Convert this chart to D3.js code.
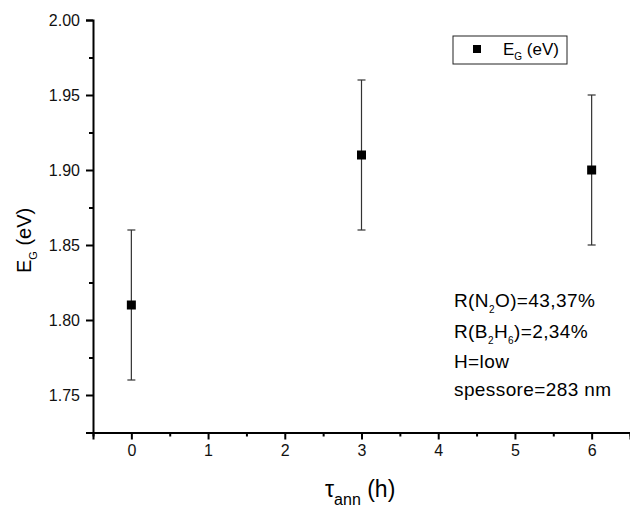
<!DOCTYPE html>
<html>
<head>
<meta charset="utf-8">
<script src="https://cdn.jsdelivr.net/npm/d3@7"></script>
<style>
  html, body { margin: 0; padding: 0; background: #fff; }
  svg { display: block; font-family: "Liberation Sans", Arial, sans-serif; }
</style>
</head>
<body>
<svg id="chart" width="630" height="511"></svg>
<script>
// ---- data ----
const annealTimes = [0, 3, 6];
const bandGap = [1.81, 1.91, 1.90];
const bandGapErr = [0.05, 0.05, 0.05];
const xTicks = [0, 1, 2, 3, 4, 5, 6];
const yTicks = [1.75, 1.80, 1.85, 1.90, 1.95, 2.00];
const notes = [
  [["R(N", 0], ["2", 1], ["O)=43,37%", 0]],
  [["R(B", 0], ["2", 1], ["H", 0], ["6", 1], [")=2,34%", 0]],
  [["H=low", 0]],
  [["spessore=283 nm", 0]]
];

const svg = d3.select("#chart");
const L = 93, R = 630, T = 20, B = 432.5;
const x = d3.scaleLinear().domain([-0.5, 6.5]).range([L, R]);
const y = d3.scaleLinear().domain([1.725, 2.00]).range([B, T]);

// minor ticks
const xMinor = d3.range(-0.5, 6.51, 0.5).filter(v => Math.abs(v - Math.round(v)) > 0.01);
const yMinor = d3.range(1.725, 2.001, 0.025).filter(v => !yTicks.some(t => Math.abs(t - v) < 1e-6));

const gx = svg.append("g").attr("transform", `translate(0,${B})`);
gx.call(d3.axisBottom(x).tickValues(xTicks).tickSize(7).tickPadding(5).tickFormat(d3.format("d")));
gx.append("g").call(d3.axisBottom(x).tickValues(xMinor).tickSize(4).tickFormat(""));
const gy = svg.append("g").attr("transform", `translate(${L},0)`);
gy.call(d3.axisLeft(y).tickValues(yTicks).tickSize(7).tickPadding(6).tickFormat(d3.format(".2f")));
gy.append("g").call(d3.axisLeft(y).tickValues(yMinor).tickSize(4).tickFormat(""));

svg.selectAll(".domain").attr("stroke", "#000").attr("stroke-width", 2);
svg.selectAll(".tick line").attr("stroke", "#000").attr("stroke-width", 2);
svg.selectAll(".tick text").attr("font-size", 16).attr("fill", "#111")
  .attr("font-family", "'Liberation Sans', Arial, sans-serif");
gx.selectAll("g > g").select(".domain").remove();
gy.selectAll("g > g").select(".domain").remove();

// error bars
const pts = annealTimes.map((t, i) => ({ t, v: bandGap[i], e: bandGapErr[i] }));
const eb = svg.append("g").attr("stroke", "#333").attr("stroke-width", 1.2);
eb.selectAll(".v").data(pts).join("line")
  .attr("x1", d => x(d.t)).attr("x2", d => x(d.t))
  .attr("y1", d => y(d.v - d.e)).attr("y2", d => y(d.v + d.e));
eb.selectAll(".ct").data(pts).join("line")
  .attr("x1", d => x(d.t) - 4).attr("x2", d => x(d.t) + 4)
  .attr("y1", d => y(d.v + d.e)).attr("y2", d => y(d.v + d.e));
eb.selectAll(".cb").data(pts).join("line")
  .attr("x1", d => x(d.t) - 4).attr("x2", d => x(d.t) + 4)
  .attr("y1", d => y(d.v - d.e)).attr("y2", d => y(d.v - d.e));

// markers
svg.append("g").selectAll("rect").data(pts).join("rect")
  .attr("x", d => x(d.t) - 4.5).attr("y", d => y(d.v) - 4.5)
  .attr("width", 9).attr("height", 9).attr("fill", "#000");

// axis titles
const xt = svg.append("text").attr("x", 325).attr("y", 497).attr("font-size", 23).attr("fill", "#000");
xt.append("tspan").text("τ");
xt.append("tspan").attr("dy", 8).attr("font-size", 16).text("ann");
xt.append("tspan").attr("dy", -8).text(" (h)");

const yt = svg.append("text").attr("transform", "translate(31,273) rotate(-90)").attr("font-size", 20).attr("fill", "#000");
yt.append("tspan").text("E");
yt.append("tspan").attr("dy", 6).attr("font-size", 11).text("G");
yt.append("tspan").attr("dy", -6).text(" (eV)");

// legend
const lg = svg.append("g");
lg.append("rect").attr("x", 453).attr("y", 36).attr("width", 114).attr("height", 28)
  .attr("fill", "#fff").attr("stroke", "#222").attr("stroke-width", 1);
lg.append("rect").attr("x", 473).attr("y", 45).attr("width", 8).attr("height", 8).attr("fill", "#000");
const lt = lg.append("text").attr("x", 503).attr("y", 55).attr("font-size", 17).attr("fill", "#000");
lt.append("tspan").text("E");
lt.append("tspan").attr("dy", 5).attr("font-size", 10).text("G");
lt.append("tspan").attr("dy", -5).text(" (eV)");

// annotations
const baselines = [307, 338, 368, 396];
notes.forEach((parts, i) => {
  const t = svg.append("text").attr("x", 454).attr("y", baselines[i]).attr("font-size", 19)
    .attr("letter-spacing", 0.4).attr("fill", "#000");
  let sub = 0;
  parts.forEach(([s, isSub]) => {
    const ts = t.append("tspan").text(s);
    if (isSub && !sub) { ts.attr("dy", 6).attr("font-size", 10); sub = 1; }
    else if (isSub && sub) { ts.attr("font-size", 10); }
    else if (!isSub && sub) { ts.attr("dy", -6); sub = 0; }
  });
});
</script>
</body>
</html>
